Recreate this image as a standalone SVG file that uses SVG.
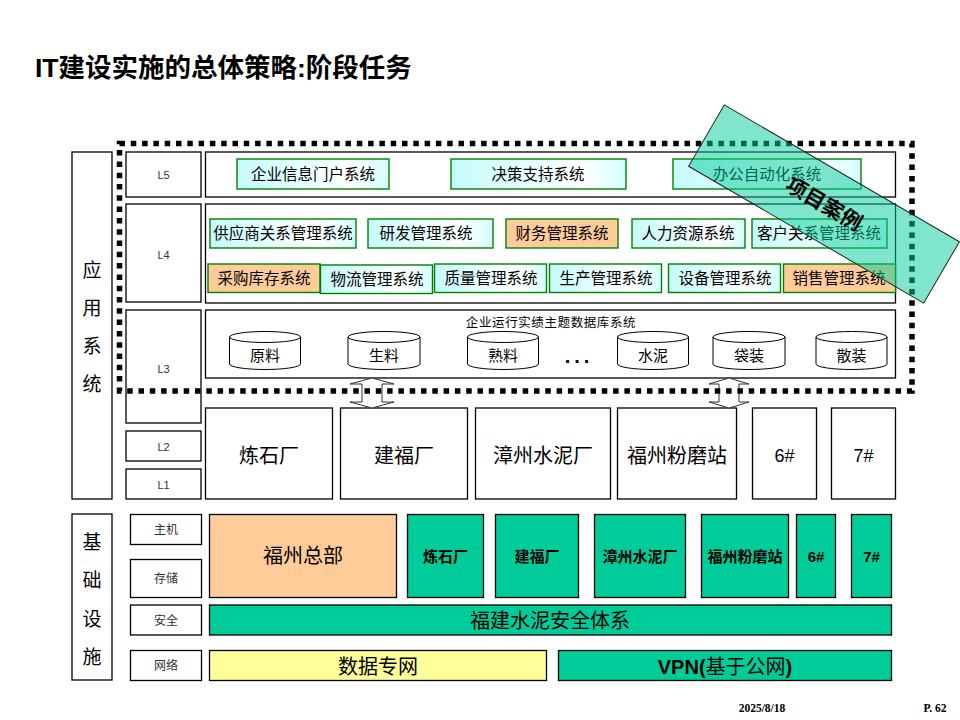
<svg xmlns="http://www.w3.org/2000/svg" width="960" height="720" viewBox="0 0 960 720">
<defs>
<linearGradient id="cy" x1="0" y1="0" x2="1" y2="0">
<stop offset="0" stop-color="#c6fbfb"/>
<stop offset="0.75" stop-color="#ffffff"/>
<stop offset="1" stop-color="#d4ffff"/>
</linearGradient>
<style>
text{font-family:"Liberation Sans","Noto Sans CJK SC",sans-serif;fill:#000;text-anchor:middle;dominant-baseline:central}
.box{fill:#fff;stroke:#000;stroke-width:1.3}
.lab{font-size:11px;fill:#333}
.side{font-size:19px}
.sys{stroke:#008000;stroke-width:1.4;fill:url(#cy)}
.org{stroke:#008000;stroke-width:1.4;fill:#ffcc99}
.st{font-size:15.5px}
.cyl{fill:#fff;stroke:#000;stroke-width:1}
.cl{font-size:15px}
.pl{font-size:20px}
.gr{fill:#00cc99;stroke:#000;stroke-width:1.3}
.gt{font-size:15px;font-weight:bold}
.arr{fill:#fff;stroke:#333;stroke-width:1}
</style>
</defs>
<rect width="960" height="720" fill="#fff"/>
<text x="35" y="68" style="font-size:26.5px;font-weight:bold;text-anchor:start">IT建设实施的总体策略:阶段任务</text>

<g id="app-system">
<rect class="box" x="72" y="152" width="40" height="347"/>
<text class="side" x="92" y="270">应</text>
<text class="side" x="92" y="308">用</text>
<text class="side" x="92" y="346">系</text>
<text class="side" x="92" y="384">统</text>
</g>
<g id="L5"><rect class="box" x="126" y="152" width="75" height="45"/><text class="lab" x="163.5" y="175">L5</text></g>
<g id="L4"><rect class="box" x="126" y="204" width="75" height="98"/><text class="lab" x="163.5" y="255">L4</text></g>
<g id="L3"><rect class="box" x="126" y="310" width="75" height="113"/><text class="lab" x="163.5" y="369">L3</text></g>
<g id="L2"><rect class="box" x="126" y="431" width="75" height="30"/><text class="lab" x="163.5" y="447">L2</text></g>
<g id="L1"><rect class="box" x="126" y="469" width="75" height="30"/><text class="lab" x="163.5" y="485">L1</text></g>

<g id="L5-panel"><rect class="box" x="205.5" y="152" width="690" height="45"/></g>
<g id="L4-panel"><rect class="box" x="205.5" y="204" width="690" height="99"/></g>
<g id="L3-panel"><rect class="box" x="205.5" y="310" width="690" height="68"/>
<text x="551" y="323" style="font-size:12.5px;letter-spacing:0.6px">企业运行实绩主题数据库系统</text></g>

<g id="portal"><rect class="sys" x="237" y="159" width="152" height="30"/><text class="st" x="313" y="174">企业信息门户系统</text></g>
<g id="dss"><rect class="sys" x="451" y="159" width="175" height="30"/><text class="st" x="538" y="174">决策支持系统</text></g>
<g id="oa"><rect class="sys" x="673" y="159" width="188" height="30"/><text class="st" x="767" y="174">办公自动化系统</text></g>

<g id="srm"><rect class="sys" x="210" y="219" width="146" height="29"/><text class="st" x="283" y="233.5">供应商关系管理系统</text></g>
<g id="rd"><rect class="sys" x="368" y="219" width="125" height="29"/><text class="st" x="426" y="233.5">研发管理系统</text></g>
<g id="fin"><rect class="org" x="506" y="219" width="112" height="29"/><text class="st" x="562" y="233.5">财务管理系统</text></g>
<g id="hr"><rect class="sys" x="632" y="219" width="113" height="29"/><text class="st" x="688" y="233.5">人力资源系统</text></g>
<g id="crm"><rect class="sys" x="752" y="219" width="135" height="29"/><text class="st" x="819" y="233.5">客户关系管理系统</text></g>

<g id="purchase"><rect class="org" x="208" y="264" width="112" height="28.5"/><text class="st" x="264" y="278">采购库存系统</text></g>
<g id="logistics"><rect class="sys" x="320.5" y="265" width="112" height="28.5"/><text class="st" x="377" y="279">物流管理系统</text></g>
<g id="quality"><rect class="sys" x="434.5" y="264" width="112" height="28.5"/><text class="st" x="491" y="278">质量管理系统</text></g>
<g id="production"><rect class="sys" x="549.5" y="264" width="112" height="28.5"/><text class="st" x="606" y="278">生产管理系统</text></g>
<g id="equipment"><rect class="sys" x="668.5" y="264" width="112" height="28.5"/><text class="st" x="725" y="278">设备管理系统</text></g>
<g id="sales"><rect class="org" x="783.5" y="264" width="112" height="28.5"/><text class="st" x="839" y="278">销售管理系统</text></g>

<g id="db-raw"><path class="cyl" d="M229.5,337 A35.5,5.5 0 0 1 300.5,337 V364 A35.5,5.5 0 0 1 229.5,364 Z M229.5,337 A35.5,5.5 0 0 0 300.5,337"/><text class="cl" x="265" y="355.5">原料</text></g>
<g id="db-rawmeal"><path class="cyl" d="M348,337 A36,5.5 0 0 1 420,337 V364 A36,5.5 0 0 1 348,364 Z M348,337 A36,5.5 0 0 0 420,337"/><text class="cl" x="384" y="355.5">生料</text></g>
<g id="db-clinker"><path class="cyl" d="M467.5,337 A35.5,5.5 0 0 1 538.5,337 V364 A35.5,5.5 0 0 1 467.5,364 Z M467.5,337 A35.5,5.5 0 0 0 538.5,337"/><text class="cl" x="503" y="355.5">熟料</text></g>
<text x="579" y="356" style="font-size:20px;font-weight:bold;letter-spacing:4px">...</text>
<g id="db-cement"><path class="cyl" d="M617.5,337 A35.5,5.5 0 0 1 688.5,337 V364 A35.5,5.5 0 0 1 617.5,364 Z M617.5,337 A35.5,5.5 0 0 0 688.5,337"/><text class="cl" x="653" y="355.5">水泥</text></g>
<g id="db-bag"><path class="cyl" d="M713,337 A36,5.5 0 0 1 785,337 V364 A36,5.5 0 0 1 713,364 Z M713,337 A36,5.5 0 0 0 785,337"/><text class="cl" x="749" y="355.5">袋装</text></g>
<g id="db-bulk"><path class="cyl" d="M816,337 A35.5,5.5 0 0 1 887,337 V364 A35.5,5.5 0 0 1 816,364 Z M816,337 A35.5,5.5 0 0 0 887,337"/><text class="cl" x="851.5" y="355.5">散装</text></g>

<g id="plant-lianshi"><rect class="box" x="205.5" y="408" width="127" height="91"/><text class="pl" x="269" y="456">炼石厂</text></g>
<g id="plant-jianfu"><rect class="box" x="340.5" y="408" width="127" height="91"/><text class="pl" x="404" y="456">建福厂</text></g>
<g id="plant-zhangzhou"><rect class="box" x="475.5" y="408" width="135" height="91"/><text class="pl" x="543" y="456">漳州水泥厂</text></g>
<g id="plant-fuzhou"><rect class="box" x="617.5" y="408" width="119" height="91"/><text class="pl" x="677" y="456">福州粉磨站</text></g>
<g id="plant-6"><rect class="box" x="752.5" y="408" width="64" height="91"/><text class="pl" x="784.5" y="456" style="font-size:18px">6#</text></g>
<g id="plant-7"><rect class="box" x="831.5" y="408" width="64" height="91"/><text class="pl" x="863.5" y="456" style="font-size:18px">7#</text></g>

<g id="connectors">
<path class="arr" d="M372,378 L350,384 L362,384 L362,402 L350,402 L372,408 L394,402 L382,402 L382,384 L394,384 Z"/>
<path class="arr" d="M729,378 L709,384 L719,384 L719,402 L709,402 L729,408 L749,402 L739,402 L739,384 L749,384 Z"/>
</g>

<g id="scope-border"><rect x="119.5" y="143.5" width="792.5" height="247.5" fill="none" stroke="#000" stroke-width="5.5" stroke-dasharray="5.5 5.8"/></g>

<g id="infra">
<rect class="box" x="72" y="514" width="40" height="166"/>
<text class="side" x="92" y="542">基</text>
<text class="side" x="92" y="580">础</text>
<text class="side" x="92" y="619">设</text>
<text class="side" x="92" y="657">施</text>
</g>
<g id="host"><rect class="box" x="130.5" y="514.5" width="71" height="30"/><text class="lab" x="166" y="530" style="font-size:12px">主机</text></g>
<g id="storage"><rect class="box" x="130.5" y="559.5" width="71" height="38"/><text class="lab" x="166" y="579" style="font-size:12px">存储</text></g>
<g id="security"><rect class="box" x="130.5" y="605" width="71" height="30"/><text class="lab" x="166" y="621" style="font-size:12px">安全</text></g>
<g id="network"><rect class="box" x="130.5" y="650.5" width="71" height="30"/><text class="lab" x="166" y="666" style="font-size:12px">网络</text></g>

<g id="hq"><rect x="209.5" y="514.5" width="187" height="83" fill="#ffcc99" stroke="#000" stroke-width="1.3"/><text class="pl" x="303" y="556">福州总部</text></g>
<g id="h-lianshi"><rect class="gr" x="407.5" y="514.5" width="76" height="83"/><text class="gt" x="445.5" y="556">炼石厂</text></g>
<g id="h-jianfu"><rect class="gr" x="495.5" y="514.5" width="83" height="83"/><text class="gt" x="537" y="556">建福厂</text></g>
<g id="h-zhangzhou"><rect class="gr" x="594.5" y="514.5" width="91" height="83"/><text class="gt" x="640" y="556">漳州水泥厂</text></g>
<g id="h-fuzhou"><rect class="gr" x="701.5" y="514.5" width="87" height="83"/><text class="gt" x="745" y="556">福州粉磨站</text></g>
<g id="h-6"><rect class="gr" x="796.5" y="514.5" width="39" height="83"/><text class="gt" x="816" y="556">6#</text></g>
<g id="h-7"><rect class="gr" x="851.5" y="514.5" width="40" height="83"/><text class="gt" x="871.5" y="556">7#</text></g>
<g id="sec-sys"><rect class="gr" x="209.5" y="605" width="682" height="30"/><text class="pl" x="550" y="621">福建水泥安全体系</text></g>
<g id="private-net"><rect x="209.5" y="650.5" width="337" height="30" fill="#ffff99" stroke="#000" stroke-width="1.3"/><text class="pl" x="378" y="666.5">数据专网</text></g>
<g id="vpn"><rect class="gr" x="558.5" y="650.5" width="333" height="30"/><text class="pl" x="725" y="666.5"><tspan font-weight="bold">VPN(</tspan>基于公网<tspan font-weight="bold">)</tspan></text></g>

<g id="project-case" transform="rotate(30.2 824 204)">
<rect x="688" y="168.5" width="272" height="71" fill="#00cc99" fill-opacity="0.5" stroke="#222" stroke-width="1"/>
<text x="824" y="204" style="font-size:21px;font-weight:bold">项目案例</text>
</g>

<text x="762" y="708" style="font-family:'Liberation Serif',serif;font-size:11.5px;font-weight:bold">2025/8/18</text>
<text x="935" y="708" style="font-family:'Liberation Serif',serif;font-size:11.5px;font-weight:bold">P. 62</text>
</svg>
